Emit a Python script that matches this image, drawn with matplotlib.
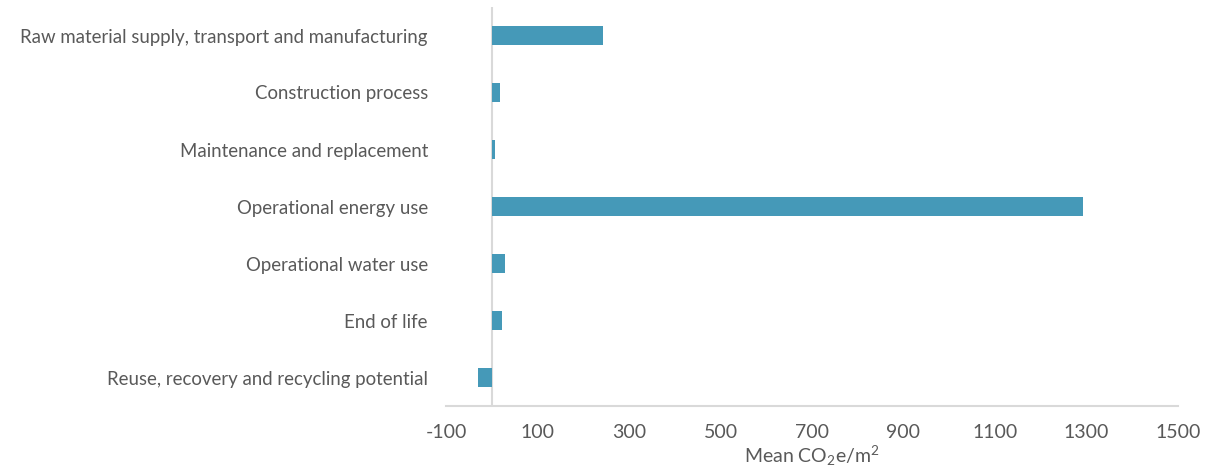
import matplotlib.pyplot as plt

categories = ['Raw material supply, transport and manufacturing',
              'Construction process',
              'Maintenance and replacement',
              'Operational energy use',
              'Operational water use',
              'End of life',
              'Reuse, recovery and recycling potential']
values = [243, 18, 8, 1293, 28, 22, -31]
xticks = [-100, 100, 300, 500, 700, 900, 1100, 1300, 1500]

plt.rcParams['font.family'] = ['Lato', 'DejaVu Sans']
plt.rcParams['mathtext.default'] = 'regular'
txt = '#595959'
grey = '#d9d9d9'

fig = plt.figure(figsize=(12.07, 4.73), dpi=100)
ax = fig.add_axes([446 / 1207, 67 / 473, 732 / 1207, 399 / 473])

pos = list(range(len(categories)))[::-1]
ax.barh(pos, values, height=0.33, color='#4599b8', zorder=3)
ax.axvline(0, color=grey, lw=1.5, zorder=2)

ax.set_xlim(-100, 1500)
ax.set_ylim(-0.5, len(categories) - 0.5)
ax.set_xticks(xticks)
ax.set_xticklabels([str(t) for t in xticks], fontsize=14, color=txt)
ax.set_yticks(pos)
ax.set_yticklabels(categories, fontsize=13.4, color=txt)
ax.tick_params(axis='both', length=0)
ax.tick_params(axis='x', pad=13)
ax.tick_params(axis='y', pad=13)

for s in ['top', 'right', 'left']:
    ax.spines[s].set_visible(False)
ax.spines['bottom'].set_color(grey)
ax.spines['bottom'].set_linewidth(1.5)

ax.set_xlabel('Mean CO$_2$e/m$^2$', fontsize=14, color=txt, labelpad=2)

fig.savefig('out.png', dpi=100)
